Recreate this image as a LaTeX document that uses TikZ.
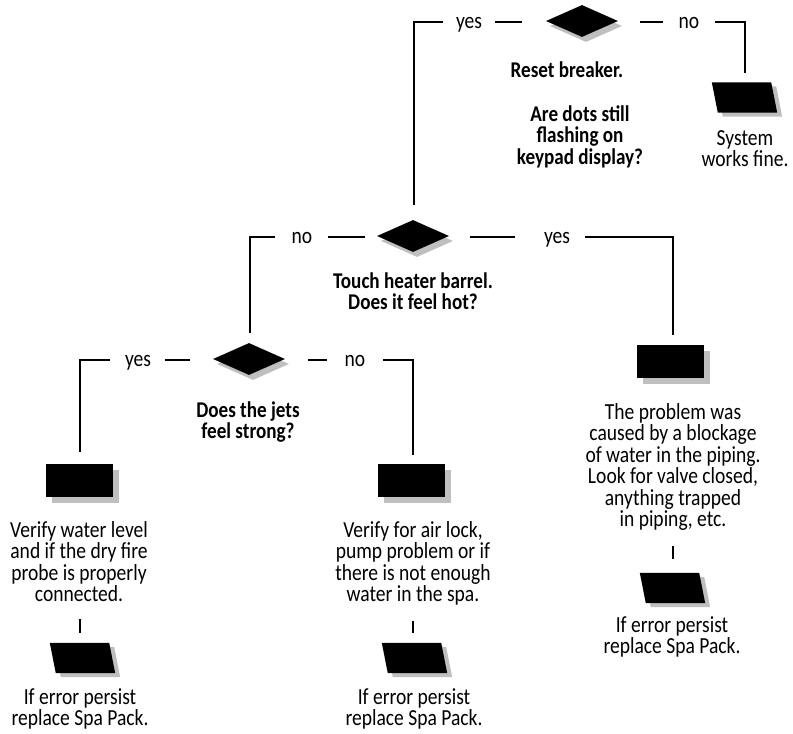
\documentclass[tikz,border=0pt]{standalone}
\usepackage{fontspec}
\setmainfont{Carlito}[FakeStretch=0.85]
\usetikzlibrary{shapes.geometric,shadows}
\newcommand\tsp{\rule{0pt}{18pt}}
\newcommand\paraq[1]{%
  \fill[black!25] ([xshift=5pt,yshift=-4pt]#1.north west) -- ([xshift=-1pt,yshift=-4pt]#1.north east)
     -- ([xshift=5pt,yshift=-4pt]#1.south east) -- ([xshift=11pt,yshift=-4pt]#1.south west) -- cycle;
  \fill[black] (#1.north west) -- ([xshift=-6pt]#1.north east) -- (#1.south east)
     -- ([xshift=6pt]#1.south west) -- cycle;}
\begin{document}
\begin{tikzpicture}[x=1pt,y=-1pt,
  every node/.style={inner sep=0pt},
  txt/.style={anchor=north, align=center, font=\fontsize{23}{21.5}\selectfont},
  btxt/.style={anchor=north, align=center, font=\fontsize{22.5}{21.6}\selectfont\bfseries},
  lbl/.style={anchor=base, font=\fontsize{23}{21.5}\selectfont},
  ln/.style={line width=1.2pt},
  dec/.style={diamond, fill=black, minimum width=72pt, minimum height=32pt,
    drop shadow={shadow xshift=4pt, shadow yshift=-5pt, fill=black!25, opacity=1}},
  blk/.style={rectangle, fill=black, minimum width=67pt, minimum height=33pt,
    drop shadow={shadow xshift=6pt, shadow yshift=-6pt, fill=black!25, opacity=1}},
  pbox/.style={rectangle, minimum width=65pt, minimum height=30pt}
]
\useasboundingbox (0,0) rectangle (793,734);

% ---------- top decision ----------
\node[dec] (d1) at (582,21) {};
\coordinate (t1) at (414,22);
\coordinate (t2) at (443,22);
\coordinate (t3) at (495,22);
\coordinate (t4) at (522,22);
\coordinate (t5) at (640,22);
\coordinate (t6) at (663,22);
\coordinate (t7) at (715,22);
\coordinate (t8) at (745,22);
\coordinate (t9) at (745,73);
\coordinate (m0) at (414,205);
\node[lbl] (yes1) at (469,28) {yes};
\node[lbl] (no1) at (689,28) {no};
\draw[ln] (t2) -- (t1) -- (m0);
\draw[ln] (t3) -- (t4);
\draw[ln] (t5) -- (t6);
\draw[ln] (t7) -- (t8) -- (t9);
\node[pbox] (p1) at (744.5,97.5) {};
\paraq{p1}
\node[txt] (sys) at (745,127) {\tsp System\\works fine.};
\node[btxt] (q1a) at (567,59) {\tsp Reset breaker.};
\node[btxt] (q1b) at (580,103) {\tsp Are dots still\\flashing on\\keypad display?};

% ---------- middle decision ----------
\node[dec] (d2) at (413,236) {};
\coordinate (a1) at (250,333);
\coordinate (a2) at (250,237);
\coordinate (a3) at (275,237);
\coordinate (a4) at (328,237);
\coordinate (a5) at (365,237);
\coordinate (b1) at (470,237);
\coordinate (b2) at (515,237);
\coordinate (b3) at (585,237);
\coordinate (b4) at (673,237);
\coordinate (b5) at (673,335);
\node[lbl] (no2) at (302,243) {no};
\node[lbl] (yes2) at (557,243) {yes};
\draw[ln] (a1) -- (a2) -- (a3);
\draw[ln] (a4) -- (a5);
\draw[ln] (b1) -- (b2);
\draw[ln] (b3) -- (b4) -- (b5);
\node[btxt] (q2) at (413,270) {\tsp Touch heater barrel.\\Does it feel hot?};

\node[blk] (r1) at (670.5,361.5) {};
\node[txt] (res1) at (673,401) {\tsp The problem was\\caused by a blockage\\of water in the piping.\\Look for valve closed,\\anything trapped\\in piping, etc.};
\coordinate (s1a) at (673,546);
\coordinate (s1b) at (673,559);
\draw[ln] (s1a) -- (s1b);
\node[pbox] (p3) at (672.5,588) {};
\paraq{p3}
\node[txt] (e3) at (672,614) {\tsp If error persist\\replace Spa Pack.};

% ---------- left decision ----------
\node[dec] (d3) at (249,359) {};
\coordinate (c1) at (80,452);
\coordinate (c2) at (80,360);
\coordinate (c3) at (110,360);
\coordinate (c4) at (165,360);
\coordinate (c5) at (190,360);
\coordinate (c6) at (308,360);
\coordinate (c7) at (327,360);
\coordinate (c8) at (383,360);
\coordinate (c9) at (413,360);
\coordinate (c10) at (413,455);
\node[lbl] (yes3) at (138,366) {yes};
\node[lbl] (no3) at (355,366) {no};
\draw[ln] (c1) -- (c2) -- (c3);
\draw[ln] (c4) -- (c5);
\draw[ln] (c6) -- (c7);
\draw[ln] (c8) -- (c9) -- (c10);
\node[btxt] (q3) at (248,399) {\tsp Does the jets\\feel strong?};

\node[blk] (r2) at (79.5,480) {};
\node[blk] (r3) at (411.5,480) {};
\node[txt] (res2) at (79,519) {\tsp Verify water level\\and if the dry fire\\probe is properly\\connected.};
\node[txt] (res3) at (413,519) {\tsp Verify for air lock,\\pump problem or if\\there is not enough\\water in the spa.};
\coordinate (s2a) at (80,619);
\coordinate (s2b) at (80,633);
\coordinate (s3a) at (413,621);
\coordinate (s3b) at (413,633);
\draw[ln] (s2a) -- (s2b);
\draw[ln] (s3a) -- (s3b);
\node[pbox] (p2) at (82.5,658) {};
\paraq{p2}
\node[pbox] (p4) at (414.5,658) {};
\paraq{p4}
\node[txt] (e2) at (80,686) {\tsp If error persist\\replace Spa Pack.};
\node[txt] (e4) at (414,686) {\tsp If error persist\\replace Spa Pack.};
\end{tikzpicture}
\end{document}
